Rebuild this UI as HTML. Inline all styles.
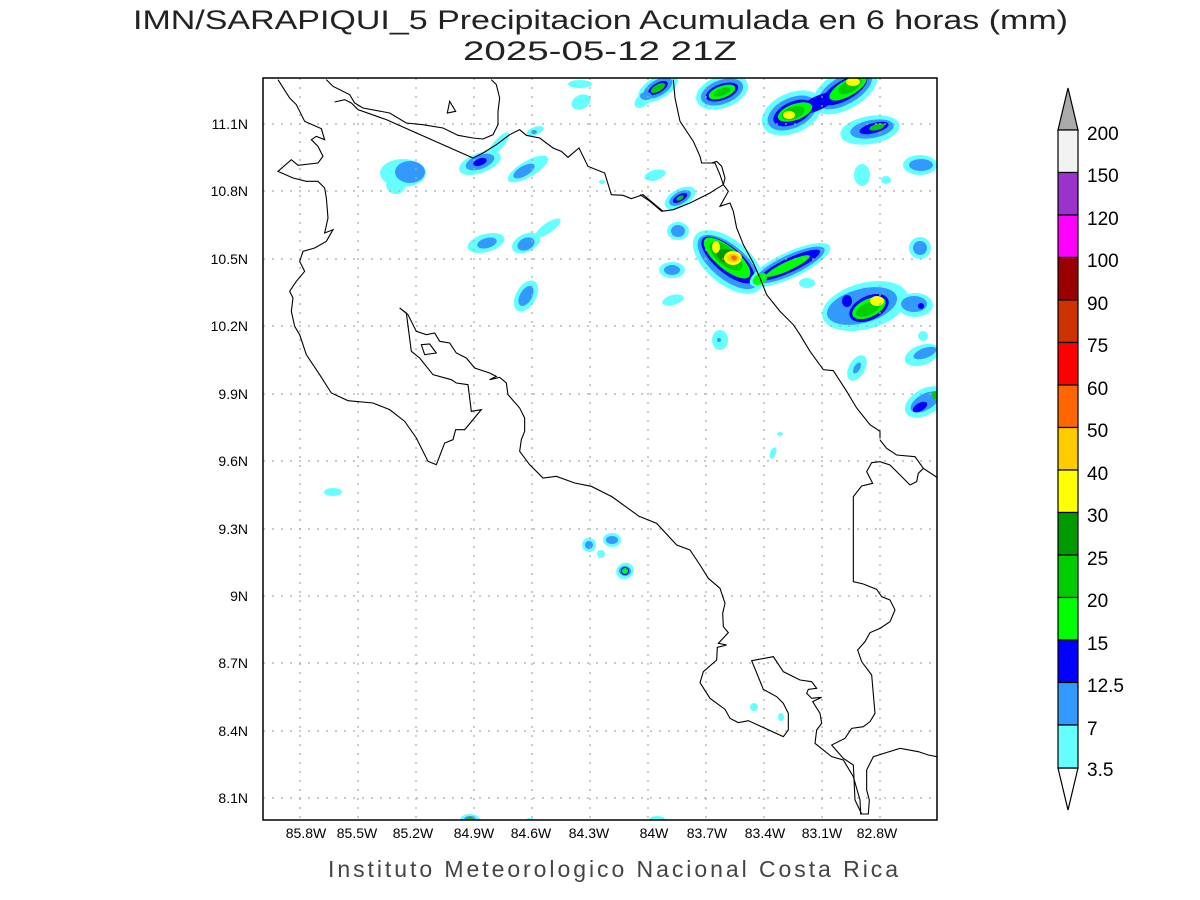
<!DOCTYPE html>
<html><head><meta charset="utf-8"><style>
html,body{margin:0;padding:0;background:#fff;}
svg{display:block;}
text{font-family:"Liberation Sans",sans-serif;}
</style></head><body>
<svg width="1200" height="900" viewBox="0 0 1200 900" xmlns="http://www.w3.org/2000/svg">
<rect width="1200" height="900" fill="#fff"/>
<text x="133" y="29" font-size="27" fill="#222" textLength="935" lengthAdjust="spacingAndGlyphs">IMN/SARAPIQUI_5 Precipitacion Acumulada en 6 horas (mm)</text>
<text x="463" y="60" font-size="27" fill="#222" textLength="274" lengthAdjust="spacingAndGlyphs">2025-05-12 21Z</text>
<defs><clipPath id="c"><rect x="263" y="78" width="674" height="742"/></clipPath></defs>
<g clip-path="url(#c)">
<g>
<ellipse cx="658" cy="88" rx="22" ry="11" transform="rotate(-30 658 88)" fill="#66ffff"/>
<ellipse cx="658" cy="88" rx="16" ry="8" transform="rotate(-30 658 88)" fill="#3399ff"/>
<ellipse cx="658" cy="88" rx="11" ry="5" transform="rotate(-30 658 88)" fill="#0000ff"/>
<ellipse cx="658" cy="88" rx="8" ry="3.5" transform="rotate(-30 658 88)" fill="#00cc00"/>
<ellipse cx="643" cy="100" rx="10" ry="6" transform="rotate(-40 643 100)" fill="#66ffff"/>
<ellipse cx="646" cy="96" rx="6" ry="4" fill="#3399ff"/>
<ellipse cx="722" cy="92" rx="27" ry="16" transform="rotate(-20 722 92)" fill="#66ffff"/>
<ellipse cx="722" cy="92" rx="22" ry="12" transform="rotate(-20 722 92)" fill="#3399ff"/>
<ellipse cx="722" cy="92" rx="17" ry="8" transform="rotate(-20 722 92)" fill="#0000ff"/>
<ellipse cx="722" cy="92" rx="14" ry="6" transform="rotate(-20 722 92)" fill="#00ff00"/>
<ellipse cx="722" cy="92" rx="9" ry="3.5" transform="rotate(-20 722 92)" fill="#00cc00"/>
<!-- NE band -->
<ellipse cx="792" cy="113" rx="32" ry="20" transform="rotate(-25 792 113)" fill="#66ffff"/>
<ellipse cx="845" cy="90" rx="36" ry="19" transform="rotate(-30 845 90)" fill="#66ffff"/>
<ellipse cx="792" cy="113" rx="26" ry="15" transform="rotate(-25 792 113)" fill="#3399ff"/>
<ellipse cx="845" cy="90" rx="30" ry="14" transform="rotate(-30 845 90)" fill="#3399ff"/>
<ellipse cx="818" cy="103" rx="20" ry="7" transform="rotate(-25 818 103)" fill="#0000ff"/>
<ellipse cx="793" cy="113" rx="21" ry="11" transform="rotate(-25 793 113)" fill="#0000ff"/>
<ellipse cx="845" cy="90" rx="25" ry="10" transform="rotate(-30 845 90)" fill="#0000ff"/>
<ellipse cx="795" cy="112" rx="18" ry="8" transform="rotate(-20 795 112)" fill="#00ff00"/>
<ellipse cx="848" cy="88" rx="21" ry="8" transform="rotate(-30 848 88)" fill="#00ff00"/>
<ellipse cx="793" cy="113" rx="12" ry="6" transform="rotate(-20 793 113)" fill="#00cc00"/>
<ellipse cx="850" cy="86" rx="13" ry="6" transform="rotate(-30 850 86)" fill="#00cc00"/>
<ellipse cx="789" cy="115" rx="6" ry="4" fill="#ffff00"/>
<ellipse cx="853" cy="82" rx="7" ry="4" fill="#ffff00"/>
<ellipse cx="870" cy="130" rx="30" ry="14" transform="rotate(-10 870 130)" fill="#66ffff"/>
<ellipse cx="872" cy="129" rx="22" ry="9" transform="rotate(-10 872 129)" fill="#3399ff"/>
<ellipse cx="874" cy="128" rx="15" ry="5" transform="rotate(-15 874 128)" fill="#0000ff"/>
<ellipse cx="877" cy="127" rx="8" ry="3" transform="rotate(-15 877 127)" fill="#00cc00"/>
<ellipse cx="920" cy="165" rx="17" ry="10" fill="#66ffff"/>
<ellipse cx="921" cy="165" rx="12" ry="6" fill="#3399ff"/>
<ellipse cx="862" cy="175" rx="8" ry="11" fill="#66ffff"/>
<ellipse cx="886" cy="180" rx="5" ry="4" fill="#66ffff"/>
<ellipse cx="655" cy="175" rx="11" ry="5" transform="rotate(-15 655 175)" fill="#66ffff"/>
<ellipse cx="680" cy="198" rx="17" ry="9" transform="rotate(-30 680 198)" fill="#66ffff"/>
<ellipse cx="680" cy="198" rx="12" ry="6" transform="rotate(-30 680 198)" fill="#3399ff"/>
<ellipse cx="680" cy="198" rx="8" ry="3.5" transform="rotate(-30 680 198)" fill="#0000ff"/>
<ellipse cx="680" cy="198" rx="4" ry="2" transform="rotate(-30 680 198)" fill="#00cc00"/>
<ellipse cx="678" cy="231" rx="11" ry="9" fill="#66ffff"/>
<ellipse cx="678" cy="231" rx="7" ry="6" fill="#3399ff"/>
<!-- main blob -->
<ellipse cx="728" cy="262" rx="42" ry="22" transform="rotate(40 728 262)" fill="#66ffff"/>
<ellipse cx="728" cy="262" rx="37" ry="17" transform="rotate(40 728 262)" fill="#3399ff"/>
<ellipse cx="728" cy="260" rx="33" ry="13" transform="rotate(40 728 260)" fill="#0000ff"/>
<ellipse cx="727" cy="258" rx="29" ry="11" transform="rotate(40 727 258)" fill="#00ff00"/>
<ellipse cx="726" cy="256" rx="20" ry="9" transform="rotate(40 726 256)" fill="#00cc00"/>
<ellipse cx="729" cy="257" rx="13" ry="7" transform="rotate(20 729 257)" fill="#009900"/>
<ellipse cx="716" cy="247" rx="4" ry="6" fill="#ffff00"/>
<ellipse cx="733" cy="258" rx="9" ry="7" fill="#ffff00"/>
<ellipse cx="733" cy="258" rx="6" ry="4.5" fill="#ffcc00"/>
<ellipse cx="734" cy="258" rx="3" ry="2.5" fill="#ff6600"/>
<ellipse cx="790" cy="265" rx="44" ry="13" transform="rotate(-25 790 265)" fill="#66ffff"/>
<ellipse cx="790" cy="265" rx="38" ry="10" transform="rotate(-25 790 265)" fill="#3399ff"/>
<ellipse cx="790" cy="265" rx="33" ry="7" transform="rotate(-25 790 265)" fill="#0000ff"/>
<ellipse cx="788" cy="266" rx="24" ry="4.5" transform="rotate(-25 788 266)" fill="#00ff00"/>
<ellipse cx="760" cy="279" rx="8" ry="5" transform="rotate(-30 760 279)" fill="#00ff00"/>
<ellipse cx="672" cy="270" rx="13" ry="8" fill="#66ffff"/>
<ellipse cx="672" cy="270" rx="8" ry="5" fill="#3399ff"/>
<ellipse cx="673" cy="300" rx="11" ry="5" transform="rotate(-15 673 300)" fill="#66ffff"/>
<ellipse cx="807" cy="283" rx="8" ry="5" fill="#66ffff"/>
<ellipse cx="720" cy="340" rx="8" ry="10" fill="#66ffff"/>
<ellipse cx="719" cy="340" rx="2" ry="2" fill="#3399ff"/>
<!-- east blob -->
<ellipse cx="865" cy="306" rx="44" ry="23" transform="rotate(-15 865 306)" fill="#66ffff"/>
<ellipse cx="862" cy="306" rx="36" ry="17" transform="rotate(-15 862 306)" fill="#3399ff"/>
<ellipse cx="869" cy="308" rx="21" ry="12" transform="rotate(-25 869 308)" fill="#0000ff"/>
<ellipse cx="869" cy="308" rx="18" ry="9" transform="rotate(-25 869 308)" fill="#00ff00"/>
<ellipse cx="868" cy="309" rx="13" ry="6" transform="rotate(-25 868 309)" fill="#00cc00"/>
<ellipse cx="877" cy="301" rx="7" ry="5" fill="#ffff00"/>
<ellipse cx="847" cy="301" rx="5" ry="6" fill="#0000ff"/>
<ellipse cx="915" cy="305" rx="18" ry="12" fill="#66ffff"/>
<ellipse cx="914" cy="304" rx="13" ry="8" fill="#3399ff"/>
<ellipse cx="921" cy="306" rx="3" ry="3" fill="#0000ff"/>
<ellipse cx="920" cy="248" rx="11" ry="11" fill="#66ffff"/>
<ellipse cx="920" cy="248" rx="7" ry="7" fill="#3399ff"/>
<ellipse cx="857" cy="368" rx="8" ry="14" transform="rotate(30 857 368)" fill="#66ffff"/>
<ellipse cx="857" cy="368" rx="3" ry="6" transform="rotate(30 857 368)" fill="#3399ff"/>
<ellipse cx="922" cy="355" rx="18" ry="10" transform="rotate(-20 922 355)" fill="#66ffff"/>
<ellipse cx="925" cy="353" rx="12" ry="5" transform="rotate(-20 925 353)" fill="#3399ff"/>
<ellipse cx="923" cy="336" rx="5" ry="5" fill="#66ffff"/>
<ellipse cx="925" cy="402" rx="22" ry="13" transform="rotate(-30 925 402)" fill="#66ffff"/>
<ellipse cx="925" cy="402" rx="16" ry="8" transform="rotate(-30 925 402)" fill="#3399ff"/>
<ellipse cx="920" cy="407" rx="8" ry="4" transform="rotate(-30 920 407)" fill="#0000ff"/>
<ellipse cx="935" cy="395" rx="3" ry="4" fill="#00cc00"/>
<ellipse cx="403" cy="173" rx="23" ry="14" fill="#66ffff"/>
<ellipse cx="396" cy="184" rx="10" ry="10" fill="#66ffff"/>
<ellipse cx="410" cy="172" rx="15" ry="11" fill="#3399ff"/>
<ellipse cx="480" cy="163" rx="22" ry="10" transform="rotate(-20 480 163)" fill="#66ffff"/>
<ellipse cx="498" cy="145" rx="16" ry="5" transform="rotate(-50 498 145)" fill="#66ffff"/>
<ellipse cx="480" cy="162" rx="15" ry="7" transform="rotate(-20 480 162)" fill="#3399ff"/>
<ellipse cx="480" cy="162" rx="7" ry="3.5" transform="rotate(-20 480 162)" fill="#0000ff"/>
<ellipse cx="528" cy="169" rx="23" ry="8" transform="rotate(-30 528 169)" fill="#66ffff"/>
<ellipse cx="524" cy="171" rx="12" ry="5" transform="rotate(-30 524 171)" fill="#3399ff"/>
<ellipse cx="535" cy="131" rx="9" ry="4" transform="rotate(-20 535 131)" fill="#66ffff"/>
<ellipse cx="534" cy="132" rx="3" ry="2" fill="#3399ff"/>
<ellipse cx="580" cy="84" rx="12" ry="4" fill="#66ffff"/>
<ellipse cx="581" cy="102" rx="10" ry="7" transform="rotate(-25 581 102)" fill="#66ffff"/>
<ellipse cx="486" cy="243" rx="19" ry="9" transform="rotate(-15 486 243)" fill="#66ffff"/>
<ellipse cx="487" cy="243" rx="10" ry="5" transform="rotate(-15 487 243)" fill="#3399ff"/>
<ellipse cx="526" cy="243" rx="15" ry="9" transform="rotate(-25 526 243)" fill="#66ffff"/>
<ellipse cx="548" cy="228" rx="15" ry="5" transform="rotate(-35 548 228)" fill="#66ffff"/>
<ellipse cx="526" cy="244" rx="9" ry="6" transform="rotate(-25 526 244)" fill="#3399ff"/>
<ellipse cx="526" cy="296" rx="10" ry="17" transform="rotate(30 526 296)" fill="#66ffff"/>
<ellipse cx="526" cy="296" rx="6" ry="11" transform="rotate(30 526 296)" fill="#3399ff"/>
<ellipse cx="333" cy="492" rx="9" ry="4" fill="#66ffff"/>
<ellipse cx="653" cy="178" rx="6" ry="3" fill="#66ffff"/>
<ellipse cx="602" cy="182" rx="3" ry="2" fill="#66ffff"/>
<ellipse cx="589" cy="545" rx="7" ry="7" fill="#66ffff"/>
<ellipse cx="589" cy="545" rx="4" ry="4" fill="#3399ff"/>
<ellipse cx="612" cy="540" rx="9" ry="7" fill="#66ffff"/>
<ellipse cx="612" cy="540" rx="6" ry="4" fill="#3399ff"/>
<ellipse cx="601" cy="554" rx="4" ry="4" fill="#66ffff"/>
<ellipse cx="625" cy="571" rx="9" ry="8" transform="rotate(-30 625 571)" fill="#66ffff"/>
<ellipse cx="625" cy="571" rx="6" ry="5" fill="#3399ff"/>
<ellipse cx="625" cy="571" rx="4" ry="4" fill="#0000ff"/>
<ellipse cx="625" cy="571" rx="3" ry="3" fill="#00ff00"/>
<ellipse cx="773" cy="453" rx="3" ry="6" transform="rotate(20 773 453)" fill="#66ffff"/>
<ellipse cx="780" cy="434" rx="3" ry="2" fill="#66ffff"/>
<ellipse cx="754" cy="707" rx="4" ry="4" fill="#66ffff"/>
<ellipse cx="781" cy="717" rx="3" ry="4" fill="#66ffff"/>
<ellipse cx="657" cy="820" rx="8" ry="4" fill="#66ffff"/>
<ellipse cx="470" cy="820" rx="10" ry="6" fill="#66ffff"/>
<ellipse cx="470" cy="820" rx="6" ry="4" fill="#3399ff"/>
<ellipse cx="470" cy="820" rx="3" ry="3" fill="#00cc00"/>
<ellipse cx="530" cy="821" rx="5" ry="3" fill="#66ffff"/>
</g>
<g stroke="#aaa" stroke-width="1.2" stroke-dasharray="2,7">
<line x1="300" y1="78" x2="300" y2="820"/><line x1="358" y1="78" x2="358" y2="820"/>
<line x1="416" y1="78" x2="416" y2="820"/><line x1="474" y1="78" x2="474" y2="820"/>
<line x1="532" y1="78" x2="532" y2="820"/><line x1="590" y1="78" x2="590" y2="820"/>
<line x1="648" y1="78" x2="648" y2="820"/><line x1="706" y1="78" x2="706" y2="820"/>
<line x1="764" y1="78" x2="764" y2="820"/><line x1="822" y1="78" x2="822" y2="820"/>
<line x1="880" y1="78" x2="880" y2="820"/>
<line x1="263" y1="124" x2="937" y2="124"/><line x1="263" y1="191" x2="937" y2="191"/>
<line x1="263" y1="259" x2="937" y2="259"/><line x1="263" y1="326" x2="937" y2="326"/>
<line x1="263" y1="394" x2="937" y2="394"/><line x1="263" y1="461" x2="937" y2="461"/>
<line x1="263" y1="529" x2="937" y2="529"/><line x1="263" y1="596" x2="937" y2="596"/>
<line x1="263" y1="663" x2="937" y2="663"/><line x1="263" y1="731" x2="937" y2="731"/>
<line x1="263" y1="798" x2="937" y2="798"/>
</g>
<g fill="none" stroke="#000" stroke-width="1.1">
<line x1="611" y1="496" x2="640" y2="517"/>
<g transform="translate(263,78) scale(0.33333)">
<path vector-effect="non-scaling-stroke" d="M45,5 L80,60 100,80 125,130 175,152 185,185 160,175 145,185 165,205 180,235 165,255 105,262 85,245 45,280 90,300 130,310 165,310 185,330 190,360 195,420 185,465 210,455 190,490 155,510 120,520 110,550 125,580 100,610 80,640 90,660 85,700 95,745 110,770 130,830 170,890 205,945 255,968 330,975 380,995 425,1030 460,1080 495,1150 520,1160 545,1095 570,1085 578,1055 605,1055 655,995 625,1000 615,920 580,915 565,905 510,890 470,840 445,820 430,705 410,690 435,710 460,760 490,770 515,765 530,790 560,795 580,825 610,840 635,870 680,885 700,895 680,905 710,898 730,915 735,950 770,990 785,1020 785,1060 775,1085 770,1120 800,1160 840,1200 880,1195 935,1215 985,1225 1045,1255"/>
<path vector-effect="non-scaling-stroke" d="M190,5 L210,25 260,50 275,75 300,90 380,105 430,135 480,140 540,150 585,172 630,180 660,183 690,170 705,140 705,100 710,60 700,20 685,5"/>
<path vector-effect="non-scaling-stroke" d="M215,72 L245,65 265,75 285,95 370,125 630,240 660,225 700,200 740,170 770,155 790,172 830,180 870,210 895,220 915,238 948,210 975,265 1025,285 1045,350 1080,352 1105,362 1140,350 1200,400"/>
<path vector-effect="non-scaling-stroke" d="M553,105 L560,70 578,100 Z"/>
<path vector-effect="non-scaling-stroke" d="M475,800 L500,798 520,825 485,830 Z"/>
</g>
<g transform="translate(640,78) scale(0.33333)">
<path vector-effect="non-scaling-stroke" d="M0,350 L30,370 65,400 100,395 150,375 210,345 225,335 250,320 255,300 245,265 230,250 215,255 185,255 180,235 160,190 120,130 105,60 100,5"/>
<path vector-effect="non-scaling-stroke" d="M215,255 L225,255 240,290 250,320 265,340 240,385 270,375 280,400 290,450 310,500 340,555 360,600 380,650 420,700 460,740 480,770 510,820 550,875 580,878 620,940 650,990 690,1040 720,1060 720,1080"/>
</g>
<g transform="translate(640,440) scale(0.33333)">
<path vector-effect="non-scaling-stroke" d="M0,230 L50,250 110,315 150,330 180,375 205,415 240,445 255,490 248,520 250,560 265,578 235,610 260,615 232,622 230,660 190,695 180,728 210,775 255,808 270,835 295,848 325,842 430,890 445,870 445,820 430,790 410,770 370,748 335,662 400,650 430,695 480,720 515,725 530,745 505,748 500,760 515,775 545,772 518,785 540,820 545,850 530,870 525,910 575,950 610,960 640,1010 660,1080 662,1122 685,1122 688,1080 680,1050 680,990 700,950 780,925 835,935 865,945 900,952"/>
<path vector-effect="non-scaling-stroke" d="M720,0 L740,25 770,45 825,50 850,85 895,115"/>
<path vector-effect="non-scaling-stroke" d="M850,85 L835,100 830,125 810,135 770,95 750,75 720,65 695,68 680,95 698,130 665,138 640,170 640,425 670,432 710,448 725,470 750,480 765,510 750,545 720,565 690,578 675,605 653,630 665,665 695,705 705,820 690,845 670,860 635,865 615,895 575,915 610,955 640,975 645,1080 665,1122"/>
</g>
</g>
</g>
<rect x="263" y="78" width="674" height="742" fill="none" stroke="#000" stroke-width="1.5"/>
<g font-size="14" fill="#000" text-anchor="middle">
<text x="306" y="838">85.8W</text><text x="357" y="838">85.5W</text><text x="413" y="838">85.2W</text>
<text x="474" y="838">84.9W</text><text x="531" y="838">84.6W</text><text x="589" y="838">84.3W</text>
<text x="654" y="838">84W</text><text x="707" y="838">83.7W</text><text x="765" y="838">83.4W</text>
<text x="822" y="838">83.1W</text><text x="877" y="838">82.8W</text>
</g>
<g font-size="14" fill="#000" text-anchor="end">
<text x="248" y="129">11.1N</text><text x="248" y="196">10.8N</text><text x="248" y="264">10.5N</text>
<text x="248" y="331">10.2N</text><text x="248" y="399">9.9N</text><text x="248" y="466">9.6N</text>
<text x="248" y="534">9.3N</text><text x="248" y="601">9N</text><text x="248" y="668">8.7N</text>
<text x="248" y="736">8.4N</text><text x="248" y="803">8.1N</text>
</g>
<text x="328" y="877" font-size="23" fill="#444" textLength="570" lengthAdjust="spacing">Instituto Meteorologico Nacional Costa Rica</text>
<g stroke="#000" stroke-width="1.2">
<polygon points="1058,130 1078,130 1068,88" fill="#aaaaaa"/>
<polygon points="1058,768 1078,768 1068,810" fill="#ffffff"/>
<rect x="1058" y="130" width="20" height="42.5" fill="#f2f2f2"/>
<rect x="1058" y="172.5" width="20" height="42.5" fill="#9933cc"/>
<rect x="1058" y="215" width="20" height="42.5" fill="#ff00ff"/>
<rect x="1058" y="257.5" width="20" height="42.5" fill="#990000"/>
<rect x="1058" y="300" width="20" height="42.5" fill="#cc3300"/>
<rect x="1058" y="342.5" width="20" height="42.5" fill="#ff0000"/>
<rect x="1058" y="385" width="20" height="42.5" fill="#ff6600"/>
<rect x="1058" y="427.5" width="20" height="42.5" fill="#ffcc00"/>
<rect x="1058" y="470" width="20" height="42.5" fill="#ffff00"/>
<rect x="1058" y="512.5" width="20" height="42.5" fill="#009900"/>
<rect x="1058" y="555" width="20" height="42.5" fill="#00cc00"/>
<rect x="1058" y="597.5" width="20" height="42.5" fill="#00ff00"/>
<rect x="1058" y="640" width="20" height="42.5" fill="#0000ff"/>
<rect x="1058" y="682.5" width="20" height="42.5" fill="#3399ff"/>
<rect x="1058" y="725" width="20" height="43" fill="#66ffff"/>
</g>
<g font-size="19" fill="#000">
<text x="1087" y="140">200</text><text x="1087" y="182">150</text><text x="1087" y="225">120</text>
<text x="1087" y="267">100</text><text x="1087" y="310">90</text><text x="1087" y="352">75</text>
<text x="1087" y="395">60</text><text x="1087" y="437">50</text><text x="1087" y="480">40</text>
<text x="1087" y="522">30</text><text x="1087" y="565">25</text><text x="1087" y="607">20</text>
<text x="1087" y="650">15</text><text x="1087" y="692">12.5</text><text x="1087" y="735">7</text>
<text x="1087" y="776">3.5</text>
</g>
</svg>
</body></html>
